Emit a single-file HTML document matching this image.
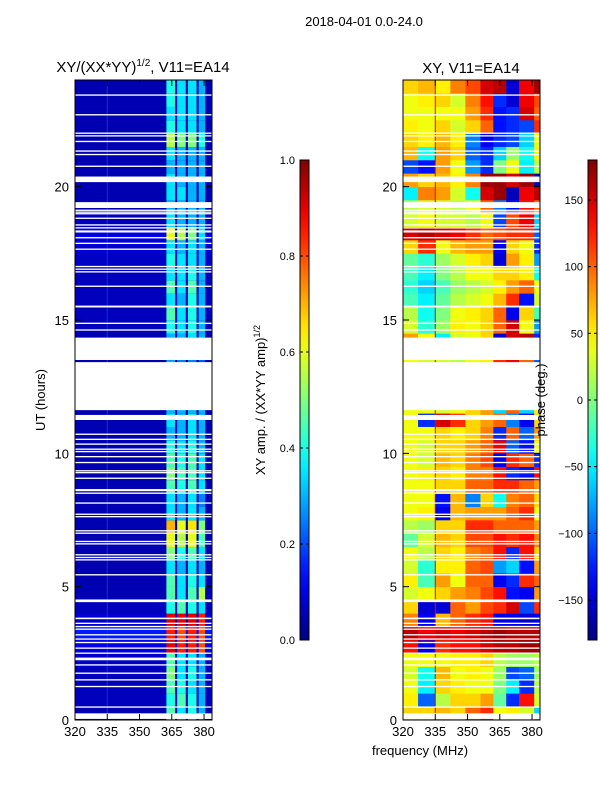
<!DOCTYPE html>
<html><head><meta charset="utf-8"><style>
body{margin:0;background:#fff;}
svg{display:block;font-family:"Liberation Sans",sans-serif;}
</style></head><body>
<svg id="fig" width="600" height="800" viewBox="0 0 600 800" xmlns="http://www.w3.org/2000/svg">
<defs>
<linearGradient id="jetg" x1="0" y1="1" x2="0" y2="0"></linearGradient>
<clipPath id="clipL"><rect x="75" y="80" width="137" height="640"/></clipPath>
<clipPath id="clipR"><rect x="403" y="80" width="137" height="640"/></clipPath>
</defs>
<text x="364" y="26" font-size="13" text-anchor="middle">2018-04-01 0.0-24.0</text>
<text x="143" y="72" font-size="15" text-anchor="middle">XY/(XX*YY)<tspan font-size="10" dy="-6">1/2</tspan><tspan dy="6">, V11=EA14</tspan></text>
<text x="471" y="73" font-size="15" text-anchor="middle">XY, V11=EA14</text>
<g id="heatL" clip-path="url(#clipL)"></g>
<g id="heatR" clip-path="url(#clipR)"></g>
<g id="axes"></g>
<text transform="translate(45,400) rotate(-90)" font-size="13" text-anchor="middle">UT (hours)</text>
<text x="420" y="755" font-size="13" text-anchor="middle">frequency (MHz)</text>
<text transform="translate(265,400) rotate(-90)" font-size="13" text-anchor="middle">XY amp. / (XX*YY amp)<tspan font-size="9" dy="-5">1/2</tspan></text>
<text transform="translate(545,400) rotate(-90)" font-size="13" text-anchor="middle">phase (deg.)</text>
</svg>
<script>
// ---- data ----
const timeStep = 0.5; // hours per row
const ampBandStart = [362.5, 367.5, 372.5, 377.5];
const ampBandEnd = [366.5, 371.5, 376.5, 380.5];
// rows from 0h upward: [background, band1, band2, band3, band4]
const ampRows = [
[0.05,0.45,0.35,0.4,0.3],[0.06,0.4,0.45,0.4,0.3],[0.06,0.45,0.4,0.35,0.3],[0.06,0.5,0.35,0.4,0.3],
[0.07,0.45,0.35,0.35,0.3],[0.1,0.9,0.85,0.85,0.8],[0.15,0.85,0.8,0.85,0.8],[0.08,0.9,0.9,0.9,0.85],
[0.06,0.4,0.45,0.4,0.35],[0.05,0.45,0.35,0.45,0.55],[0.05,0.45,0.35,0.4,0.35],[0.05,0.35,0.3,0.35,0.3],
[0.05,0.5,0.4,0.45,0.35],[0.05,0.6,0.55,0.6,0.45],[0.05,0.7,0.6,0.65,0.5],[0.05,0.35,0.3,0.35,0.3],
[0.05,0.35,0.3,0.35,0.25],[0.05,0.45,0.4,0.45,0.35],[0.05,0.5,0.45,0.45,0.35],[0.05,0.45,0.4,0.45,0.35],
[0.05,0.4,0.35,0.4,0.3],[0.05,0.3,0.3,0.35,0.3],[0.05,0.35,0.3,0.35,0.3],[0.05,0.3,0.3,0.3,0.3],
[0.05,0.3,0.3,0.3,0.3],[0.05,0.3,0.3,0.3,0.3],[0.05,0.3,0.25,0.25,0.2],[0.05,0.3,0.3,0.3,0.3],
[0.05,0.3,0.3,0.35,0.3],[0.06,0.4,0.35,0.4,0.3],[0.06,0.45,0.35,0.4,0.3],[0.06,0.35,0.3,0.4,0.3],
[0.06,0.45,0.35,0.45,0.3],[0.06,0.35,0.35,0.4,0.3],[0.07,0.4,0.35,0.35,0.3],[0.08,0.35,0.3,0.35,0.3],
[0.1,0.6,0.55,0.5,0.35],[0.06,0.35,0.3,0.3,0.3],[0.05,0.3,0.3,0.3,0.3],[0.05,0.35,0.35,0.3,0.3],
[0.05,0.35,0.3,0.3,0.3],[0.05,0.3,0.3,0.3,0.3],[0.05,0.35,0.3,0.3,0.3],[0.05,0.55,0.5,0.5,0.4],
[0.05,0.4,0.35,0.35,0.3],[0.05,0.35,0.35,0.35,0.3],[0.05,0.4,0.35,0.35,0.3],[0.05,0.4,0.35,0.35,0.3]
];
const phaseFreqEdges = [320,327,335,342,349,356,362,368,374,381,383.7];
const phaseRows = [
[60,60,70,60,100,120,40,50,30,-60],[50,-100,20,60,60,80,-10,-120,130,30],[40,-50,60,50,40,40,0,-50,-120,20],[30,-40,70,40,50,40,10,-110,-100,10],
[40,40,40,50,50,60,20,10,10,20],[130,-140,120,130,130,150,160,160,170,170],[160,140,150,140,150,160,170,160,160,160],[90,-140,70,100,120,130,-140,-140,-150,-140],
[60,-150,-150,100,80,110,120,150,-110,120],[30,40,60,80,90,110,130,-130,-140,80],[50,-20,80,40,100,100,-140,-120,120,100],[30,-30,50,50,100,110,-80,-60,-130,80],
[40,20,60,50,90,100,130,-120,130,60],[-10,30,70,60,110,110,130,120,130,90],[20,10,60,60,120,120,100,100,100,80],[40,50,-140,70,80,80,80,100,120,40],
[40,40,-130,70,-90,60,-40,90,100,60],[40,40,60,60,100,100,120,120,100,80],[40,50,60,50,90,90,130,-120,-130,130],[40,30,70,60,90,110,-140,120,100,-120],
[40,30,60,60,80,100,140,-100,-130,40],[40,40,60,50,60,90,-120,100,-100,80],[40,-120,150,120,60,80,100,-90,-140,60],[40,40,30,40,60,80,-60,100,-60,50],
[40,40,30,40,60,80,-60,100,-60,50],[40,30,30,20,40,50,120,140,100,-100],[40,30,30,20,40,50,120,140,100,-100],[40,30,30,20,40,50,120,140,100,-100],
[80,40,-50,30,40,60,-150,150,160,-120],[30,-30,10,50,40,60,100,150,40,-80],[20,-40,0,40,50,60,100,-140,60,-20],[-20,-50,-10,20,30,40,70,120,-130,30],
[-30,-60,-20,10,20,30,50,80,100,40],[-20,-50,0,20,40,40,60,60,50,-40],[-10,-30,10,30,50,60,-150,80,50,-80],[60,120,40,70,80,80,-140,60,40,-120],
[150,160,150,140,120,100,110,120,120,-100],[30,40,30,30,20,40,-110,110,140,-60],[20,30,30,20,40,100,-90,-130,130,100],[-50,90,80,30,-40,150,170,-160,140,160],
[80,60,70,50,90,170,170,150,170,-160],[-110,-130,80,40,-80,-120,0,40,-50,20],[70,-40,80,60,-100,-120,-60,10,-40,50],[60,50,70,50,-90,-140,-120,-110,-60,40],
[50,40,60,30,60,100,-130,-120,-110,120],[40,40,40,40,80,120,-130,-120,150,100],[40,50,60,30,90,130,-120,-150,140,110],[60,70,50,90,110,150,160,-150,140,170]
];
const gapStart = [0.04,0.46,1.23,1.48,1.73,2.04,2.24,2.48,2.67,2.88,3.01,3.17,3.38,3.48,3.6,3.78,4.42,5.42,5.98,6.07,6.17,6.58,6.67,6.98,7.07,7.6,7.69,8.11,8.48,8.58,9.04,9.25,9.32,9.63,9.85,10.04,10.13,10.32,10.5,10.69,11.25,11.62,13.5,14.6,14.85,15.47,16.24,16.78,16.88,16.98,17.63,17.85,18.06,18.28,18.43,18.54,18.79,18.96,19.02,19.09,19.2,20.17,20.74,21.18,21.31,21.67,21.88,21.98,22.67,23.41];
const gapEnd   = [0.25,0.51,1.28,1.53,1.78,2.09,2.34,2.53,2.72,2.93,3.06,3.22,3.43,3.53,3.65,3.84,4.52,5.47,6.03,6.12,6.22,6.63,6.72,7.03,7.12,7.65,7.74,8.16,8.53,8.66,9.09,9.3,9.37,9.68,9.9,10.09,10.18,10.37,10.55,10.74,11.44,13.42,14.34,14.65,14.9,15.54,16.29,16.83,16.93,17.03,17.68,17.9,18.11,18.36,18.48,18.59,18.84,19.01,19.07,19.14,19.42,20.38,20.79,21.23,21.36,21.72,21.93,22.03,22.72,23.46];
const xTicks = [320,335,350,365,380];
const yTicks = [0,5,10,15,20];
const ampTicks = [0.0,0.2,0.4,0.6,0.8,1.0];
const phaseTicks = [-150,-100,-50,0,50,100,150];

// ---- scales ----
const NS="http://www.w3.org/2000/svg";
const fMin=320,fMax=383.7;
const xL=f=>75+(f-fMin)/(fMax-fMin)*137;
const xR=f=>403+(f-fMin)/(fMax-fMin)*137;
const yT=t=>720-t/24*640;
function jet(v){v=Math.max(0,Math.min(1,v));
 const c=x=>Math.round(255*Math.max(0,Math.min(1,x)));
 return `rgb(${c(1.5-Math.abs(4*v-3))},${c(1.5-Math.abs(4*v-2))},${c(1.5-Math.abs(4*v-1))})`;}
function mk(tag,attrs,parent){const e=document.createElementNS(NS,tag);for(const k in attrs)e.setAttribute(k,attrs[k]);parent.appendChild(e);return e;}

const gL=document.getElementById('heatL'), gR=document.getElementById('heatR');
// amplitude heatmap
ampRows.forEach((row,i)=>{
 const y0=yT((i+1)*timeStep), h=yT(i*timeStep)-y0;
 let r=mk('rect',{x:xL(fMin),y:y0,width:xL(fMax)-xL(fMin),height:h+0.3,fill:jet(row[0])},gL);
 
 
 ampBandStart.forEach((s,b)=>{
  const c=mk('rect',{x:xL(s),y:y0,width:xL(ampBandEnd[b])-xL(s),height:h+0.3,fill:jet(row[b+1])},gL);
  
  
 });
});
mk('rect',{x:xL(335)-0.5,y:80,width:1,height:640,fill:'#1030d0'},gL);
// phase heatmap
phaseRows.forEach((row,i)=>{
 const y0=yT((i+1)*timeStep), h=yT(i*timeStep)-y0;
 row.forEach((v,j)=>{
  const c=mk('rect',{x:xR(phaseFreqEdges[j]),y:y0,width:xR(phaseFreqEdges[j+1])-xR(phaseFreqEdges[j])+0.3,height:h+0.3,fill:jet((v+180)/360)},gR);
  
  
 });
});
mk('rect',{x:xR(335)-0.5,y:80,width:1,height:640,fill:'#d01010'},gR);
// gaps
[[gL,xL],[gR,xR]].forEach(([g,xs])=>{
 gapStart.forEach((s,k)=>{
  const y0=yT(gapEnd[k]);
  const r=mk('rect',{x:xs(fMin),y:y0,width:137,height:yT(s)-y0,fill:'#fff'},g);
  
  
 });
});

// axes
const ax=document.getElementById('axes');
function panel(x0,xs,name){
 const f=mk('rect',{x:x0,y:80,width:137,height:640,fill:'none',stroke:'#000','stroke-width':1},ax);
 
 
 xTicks.forEach(v=>{const x=xs(v);
  mk('line',{x1:x,y1:720,x2:x,y2:714,stroke:'#000'},ax);
  mk('line',{x1:x,y1:80,x2:x,y2:86,stroke:'#000'},ax);
  const t=mk('text',{x:x,y:736,'font-size':13,'text-anchor':'middle'},ax);t.textContent=v;
  
  
 });
 yTicks.forEach(v=>{const y=yT(v);
  mk('line',{x1:x0,y1:y,x2:x0+6,y2:y,stroke:'#000'},ax);
  mk('line',{x1:x0+137,y1:y,x2:x0+131,y2:y,stroke:'#000'},ax);
  const t=mk('text',{x:x0-6,y:y+5,'font-size':13,'text-anchor':'end'},ax);t.textContent=v;
  
  
 });
}
panel(75,xL,'amp-panel');panel(403,xR,'phase-panel');
// colorbar gradient
const grad=document.getElementById('jetg');
for(let k=0;k<=20;k++)mk('stop',{offset:(k/20),'stop-color':jet(k/20)},grad);
function cbar(x,ticks,lo,hi,name,fmt){
 const r=mk('rect',{x:x,y:160,width:9,height:480,fill:'url(#jetg)',stroke:'#000','stroke-width':1},ax);
 
 
 ticks.forEach(v=>{const y=640-(v-lo)/(hi-lo)*480;
  mk('line',{x1:x,y1:y,x2:x+3,y2:y,stroke:'#000'},ax);
  mk('line',{x1:x+9,y1:y,x2:x+6,y2:y,stroke:'#000'},ax);
  const t=mk('text',{x:x-5,y:y+4,'font-size':11,'text-anchor':'end'},ax);t.textContent=fmt(v);
  
  
 });
}
cbar(300,ampTicks,0,1,'amp-colorbar',v=>v.toFixed(1));
cbar(588,phaseTicks,-180,180,'phase-colorbar',v=>v<0?'\u2212'+(-v):String(v));
</script>
</body></html>
